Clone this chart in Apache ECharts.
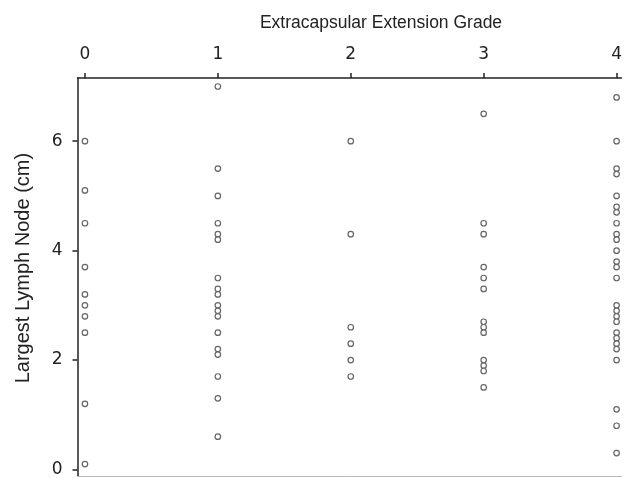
<!DOCTYPE html>
<html>
<head>
    <meta charset="UTF-8">
    <title>Extracapsular Extension Grade vs Largest Lymph Node</title>
</head>
<body style="margin:0">
    <div id="main" style="width: 625px;height:478px;"></div>
    <script src="https://cdn.jsdelivr.net/npm/echarts@6/dist/echarts.min.js"></script>
    <script type="text/javascript">
        // grades on the top axis
        var grades = [0, 1, 2, 3, 4];
        var yTicks = [0, 2, 4, 6];

        // largest lymph node size (cm), one list per grade
        var grade0 = [6.0, 5.1, 4.5, 3.7, 3.2, 3.0, 2.8, 2.5, 1.2, 0.1];
        var grade1 = [7.0, 5.5, 5.0, 4.5, 4.3, 4.2, 3.5, 3.3, 3.2, 3.0, 2.9, 2.8, 2.5, 2.2, 2.1, 1.7, 1.3, 0.6];
        var grade2 = [6.0, 4.3, 2.6, 2.3, 2.0, 1.7];
        var grade3 = [6.5, 4.5, 4.3, 3.7, 3.5, 3.3, 2.7, 2.6, 2.5, 2.0, 1.9, 1.8, 1.5];
        var grade4 = [6.8, 6.0, 5.5, 5.4, 5.0, 4.8, 4.7, 4.5, 4.3, 4.2, 4.0, 3.8, 3.7, 3.5, 3.0, 2.9, 2.8, 2.7, 2.5, 2.4, 2.3, 2.2, 2.0, 1.1, 0.8, 0.3];

        var byGrade = [grade0, grade1, grade2, grade3, grade4];
        var points = [];
        byGrade.forEach(function (list, i) {
            list.forEach(function (v) {
                points.push([grades[i], v]);
            });
        });

        var myChart = echarts.init(document.getElementById('main'));

        var option = {
            animation: false,
            title: {
                text: 'Extracapsular Extension Grade',
                left: 376,
                top: 9,
                textAlign: 'center',
                textStyle: {
                    fontFamily: 'Liberation Sans',
                    fontSize: 17.5,
                    fontWeight: 'normal',
                    color: '#222'
                }
            },
            grid: {
                left: 77.5,
                top: 78,
                right: 0,
                bottom: 1
            },
            xAxis: [{
                type: 'value',
                position: 'top',
                min: -0.056,
                max: 4.037,
                splitLine: { show: false },
                axisLine: { onZero: false, lineStyle: { color: '#222', width: 1.5 } },
                axisTick: {
                    show: true,
                    length: 5,
                    customValues: grades,
                    lineStyle: { color: '#222', width: 1.5 }
                },
                axisLabel: {
                    customValues: grades,
                    margin: 15,
                    fontFamily: 'DejaVu Sans',
                    fontSize: 17,
                    color: '#222'
                }
            }, {
                type: 'value',
                position: 'bottom',
                min: -0.056,
                max: 4.037,
                splitLine: { show: false },
                axisLine: { show: true, onZero: false, lineStyle: { color: '#bbb', width: 1 } },
                axisTick: { show: false },
                axisLabel: { show: false }
            }],
            yAxis: {
                type: 'value',
                min: -0.122,
                max: 7.155,
                name: 'Largest Lymph Node (cm)',
                nameLocation: 'middle',
                nameGap: 44,
                nameTextStyle: {
                    fontFamily: 'Liberation Sans',
                    fontSize: 20,
                    color: '#222',
                    padding: [0, 0, 0, 18]
                },
                splitLine: { show: false },
                axisLine: { show: true, onZero: false, lineStyle: { color: '#222', width: 1.5 } },
                axisTick: {
                    show: true,
                    length: 5,
                    customValues: yTicks,
                    lineStyle: { color: '#222', width: 1.5 }
                },
                axisLabel: {
                    customValues: yTicks,
                    margin: 15,
                    fontFamily: 'DejaVu Sans',
                    fontSize: 17,
                    color: '#222'
                }
            },
            series: [{
                type: 'scatter',
                xAxisIndex: 0,
                symbol: 'circle',
                symbolSize: 5.5,
                itemStyle: {
                    color: '#fff',
                    borderColor: '#666',
                    borderWidth: 1.2,
                    opacity: 1
                },
                data: points
            }]
        };

        myChart.setOption(option);
    </script>
</body>
</html>
